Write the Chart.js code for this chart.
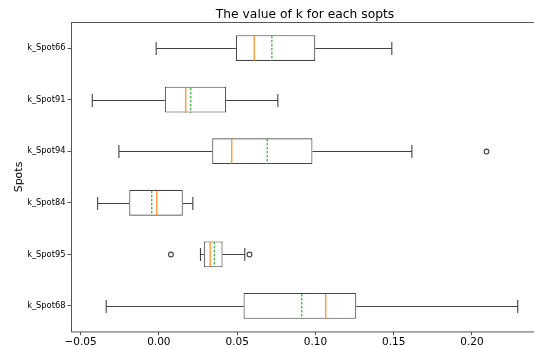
<!DOCTYPE html>
<html>
<head>
<meta charset="utf-8">
<script src="https://cdn.jsdelivr.net/npm/chart.js@4"></script>
<style>
  html, body { margin: 0; padding: 0; background: #fff; overflow: hidden; }
  #wrap { width: 540px; height: 349px; }
</style>
</head>
<body>
<div id="wrap"><canvas id="chart"></canvas></div>
<script>
const spots = ['k_Spot66', 'k_Spot91', 'k_Spot94', 'k_Spot84', 'k_Spot95', 'k_Spot68'];
const whiskerLow = [-0.0017, -0.0425, -0.0255, -0.0391, 0.0266, -0.0336];
const q1 = [0.0492, 0.0038, 0.0341, -0.0189, 0.0287, 0.0541];
const median = [0.0609, 0.0172, 0.0466, -0.0013, 0.0328, 0.1066];
const mean = [0.0722, 0.0204, 0.0692, -0.0045, 0.0354, 0.0913];
const q3 = [0.0999, 0.0430, 0.0981, 0.0153, 0.0407, 0.1261];
const whiskerHigh = [0.1488, 0.0760, 0.1616, 0.0217, 0.0549, 0.2292];
const outliers = [[], [], [0.2093], [], [0.0077, 0.0579], []];
const xTicks = [-0.05, 0.00, 0.05, 0.10, 0.15, 0.20];

const LINE = '#444';
const FONT = "'DejaVu Sans', sans-serif";

// whiskers, caps, medians, means, fliers and the frame
const boxExtras = {
  id: 'boxExtras',
  afterDatasetsDraw(chart) {
    const { ctx, chartArea: a } = chart;
    const x = chart.scales.x, y = chart.scales.y;
    const band = Math.abs(y.getPixelForValue(1) - y.getPixelForValue(0));
    const half = band * 0.25, cap = band * 0.125;
    ctx.save();
    ctx.lineWidth = 1.1;
    spots.forEach((_, i) => {
      const cy = Math.round(y.getPixelForValue(i)) + 0.5;
      const px = v => x.getPixelForValue(v);
      ctx.strokeStyle = LINE;
      ctx.setLineDash([]);
      ctx.beginPath();
      ctx.moveTo(px(whiskerLow[i]), cy); ctx.lineTo(px(q1[i]), cy);
      ctx.moveTo(px(q3[i]), cy); ctx.lineTo(px(whiskerHigh[i]), cy);
      ctx.moveTo(px(whiskerLow[i]), cy - cap); ctx.lineTo(px(whiskerLow[i]), cy + cap);
      ctx.moveTo(px(whiskerHigh[i]), cy - cap); ctx.lineTo(px(whiskerHigh[i]), cy + cap);
      ctx.stroke();

      ctx.strokeStyle = '#ff7f0e';
      ctx.beginPath();
      ctx.moveTo(px(median[i]), cy - half + 0.5); ctx.lineTo(px(median[i]), cy + half - 0.5);
      ctx.stroke();

      ctx.strokeStyle = '#2ca02c';
      ctx.setLineDash([2.5, 1.5]);
      ctx.beginPath();
      ctx.moveTo(px(mean[i]), cy - half + 0.5); ctx.lineTo(px(mean[i]), cy + half - 0.5);
      ctx.stroke();

      ctx.setLineDash([]);
      ctx.strokeStyle = LINE;
      outliers[i].forEach(v => {
        ctx.beginPath();
        ctx.arc(px(v), cy, 2.4, 0, Math.PI * 2);
        ctx.stroke();
      });
    });
    ctx.lineWidth = 1;
    ctx.strokeStyle = '#555';
    ctx.strokeRect(Math.round(a.left) + 0.5, Math.round(a.top) + 0.5, a.right - a.left, a.bottom - a.top);
    ctx.restore();
  }
};

new Chart(document.getElementById('chart'), {
  type: 'bar',
  data: {
    labels: spots,
    datasets: [{
      data: spots.map((_, i) => [q1[i], q3[i]]),
      backgroundColor: '#ffffff',
      borderColor: LINE,
      borderWidth: 1.1,
      borderSkipped: false,
      categoryPercentage: 1,
      barPercentage: 0.5
    }]
  },
  options: {
    indexAxis: 'y',
    responsive: true,
    maintainAspectRatio: false,
    animation: false,
    layout: { padding: { left: 0, right: 1, top: 0, bottom: 0 } },
    plugins: {
      legend: { display: false },
      tooltip: { enabled: false },
      title: {
        display: true,
        text: 'The value of k for each sopts',
        fullSize: false,
        color: '#000',
        font: { family: FONT, size: 12.3, weight: 'normal' },
        padding: { top: 7.5, bottom: 0 }
      }
    },
    scales: {
      x: {
        type: 'linear',
        min: -0.0561,
        max: 0.2428,
        afterBuildTicks: s => { s.ticks = xTicks.map(v => ({ value: v })); },
        afterFit: s => { s.height = 17.3; },
        border: { display: false },
        grid: { drawOnChartArea: false, drawTicks: true, tickLength: 3.5, color: '#555' },
        ticks: {
          color: '#000',
          padding: 1,
          maxRotation: 0,
          font: { family: FONT, size: 10.5 },
          callback: v => v.toFixed(2).replace('-', '\u2212')
        }
      },
      y: {
        type: 'category',
        offset: true,
        afterFit: s => { s.width = 71; },
        border: { display: false },
        grid: { drawOnChartArea: false, drawTicks: true, tickLength: 3.5, color: '#555', offset: false },
        ticks: { color: '#000', padding: 2, font: { family: FONT, size: 8.3 } },
        title: {
          display: true,
          text: 'Spots',
          color: '#000',
          font: { family: FONT, size: 11 },
          padding: { top: 13, bottom: 0 }
        }
      }
    }
  },
  plugins: [boxExtras]
});
</script>
</body>
</html>
